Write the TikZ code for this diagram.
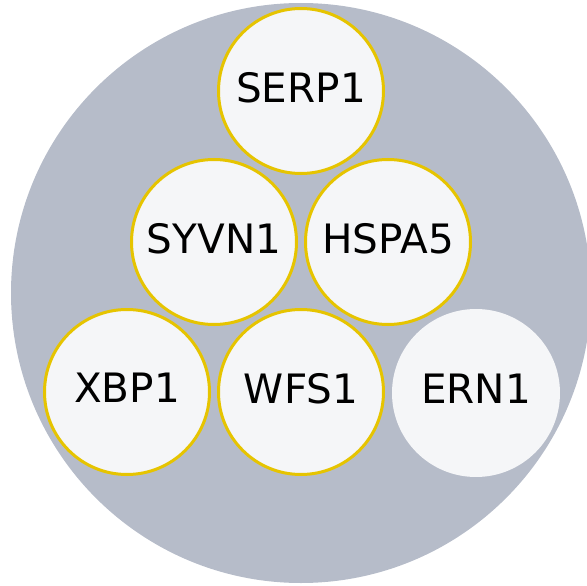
\documentclass[tikz,border=0pt]{standalone}
\usepackage{fontspec}
\setmainfont{DejaVu Sans}
\definecolor{outergrey}{HTML}{B6BCC9}
\definecolor{innerfill}{HTML}{F5F6F8}
\definecolor{ringgold}{HTML}{E6C400}
\begin{document}
\begin{tikzpicture}[x=1pt,y=-1pt,
  gene/.style={circle, fill=innerfill, minimum size=168pt, inner sep=0pt,
    text depth=8pt, font=\fontsize{40.5}{42}\selectfont},
  ringed/.style={gene, draw=ringgold, line width=3pt, minimum size=165pt}]
\useasboundingbox (0,0) rectangle (587,586);
\begin{scope}
\clip (0,0) rectangle (587,586);
\fill[outergrey] (301,293) circle (290);
\end{scope}
\node[ringed] (serp1) at (301,91) {SERP1};
\node[ringed] (syvn1) at (214,242) {SYVN1};
\node[ringed] (hspa5) at (388,242) {HSPA5};
\node[ringed] (xbp1) at (127,392) {XBP1};
\node[ringed] (wfs1) at (301,392) {WFS1};
\node[gene] (ern1) at (476,393) {ERN1};
\end{tikzpicture}
\end{document}
